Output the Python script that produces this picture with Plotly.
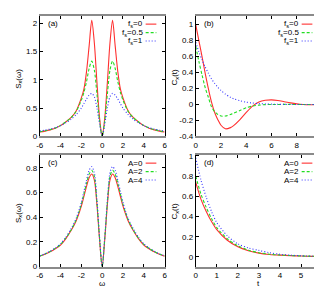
import plotly.graph_objects as go

# ---------------- data ----------------
omega = [-6, -5.5, -5, -4.5, -4, -3.5, -3, -2.5, -2, -1.75, -1.5, -1.25, -1, -0.75, -0.5, -0.25,
         0, 0.25, 0.5, 0.75, 1, 1.25, 1.5, 1.75, 2, 2.5, 3, 3.5, 4, 4.5, 5, 5.5, 6]

# panel (a): S(omega) for f_s = 0, 0.5, 1
Sa_fs0 = [0.077, 0.093, 0.115, 0.145, 0.19, 0.255, 0.33, 0.45, 0.68, 0.84, 1.15, 1.6, 2.05, 1.65, 0.95, 0.33,
          0, 0.33, 0.95, 1.65, 2.05, 1.6, 1.15, 0.84, 0.68, 0.45, 0.33, 0.255, 0.19, 0.145, 0.115, 0.093, 0.077]
Sa_fs05 = [0.082, 0.098, 0.12, 0.15, 0.195, 0.255, 0.33, 0.44, 0.64, 0.78, 0.97, 1.2, 1.33, 1.17, 0.75, 0.28,
           0, 0.28, 0.75, 1.17, 1.33, 1.2, 0.97, 0.78, 0.64, 0.44, 0.33, 0.255, 0.195, 0.15, 0.12, 0.098, 0.082]
Sa_fs1 = [0.095, 0.11, 0.13, 0.155, 0.19, 0.24, 0.3, 0.385, 0.5, 0.58, 0.66, 0.73, 0.76, 0.7, 0.5, 0.22,
          0, 0.22, 0.5, 0.7, 0.76, 0.73, 0.66, 0.58, 0.5, 0.385, 0.3, 0.24, 0.19, 0.155, 0.13, 0.11, 0.095]

# panel (c): S(omega) for A = 0, 2, 4
Sc_A0 = [0.084, 0.1, 0.12, 0.145, 0.175, 0.225, 0.29, 0.37, 0.49, 0.57, 0.65, 0.72, 0.75, 0.7, 0.5, 0.22,
         0, 0.22, 0.5, 0.7, 0.75, 0.72, 0.65, 0.57, 0.49, 0.37, 0.29, 0.225, 0.175, 0.145, 0.12, 0.1, 0.084]
Sc_A2 = [0.086, 0.102, 0.122, 0.148, 0.18, 0.23, 0.295, 0.38, 0.505, 0.59, 0.675, 0.75, 0.78, 0.73, 0.52, 0.23,
         0, 0.23, 0.52, 0.73, 0.78, 0.75, 0.675, 0.59, 0.505, 0.38, 0.295, 0.23, 0.18, 0.148, 0.122, 0.102, 0.086]
Sc_A4 = [0.088, 0.104, 0.125, 0.152, 0.185, 0.237, 0.305, 0.39, 0.52, 0.61, 0.7, 0.78, 0.81, 0.76, 0.54, 0.24,
         0, 0.24, 0.54, 0.76, 0.81, 0.78, 0.7, 0.61, 0.52, 0.39, 0.305, 0.237, 0.185, 0.152, 0.125, 0.104, 0.088]

# panel (b): C(t) for f_s = 0, 0.5, 1
t_b = [0, 0.25, 0.5, 0.75, 1, 1.25, 1.5, 1.75, 2, 2.35, 2.75, 3, 3.5, 4, 4.5, 5, 5.5, 6, 6.5, 7, 7.5, 8, 8.5, 9, 10]
Cb_fs0 = [1.0, 0.8, 0.6, 0.39, 0.2, 0.03, -0.1, -0.19, -0.26, -0.305, -0.29, -0.265, -0.19, -0.1, -0.02,
          0.03, 0.052, 0.058, 0.05, 0.035, 0.02, 0.008, 0.0, -0.003, -0.002]
Cb_fs05 = [0.73, 0.54, 0.37, 0.21, 0.09, -0.03, -0.09, -0.125, -0.145, -0.145, -0.125, -0.11, -0.075, -0.04,
           -0.02, -0.008, -0.002, 0.0, 0.0, 0.001, 0.001, 0.0, 0.0, 0.0, 0.0]
Cb_fs1 = [0.78, 0.66, 0.56, 0.47, 0.39, 0.32, 0.265, 0.215, 0.175, 0.13, 0.09, 0.072, 0.047, 0.029, 0.018,
          0.011, 0.007, 0.004, 0.002, 0.001, 0.0, 0.0, 0.0, 0.0, 0.0]

# panel (d): C(t) for A = 0, 2, 4
t_d = [0, 0.25, 0.5, 0.75, 1, 1.5, 2, 2.5, 3, 3.5, 4, 4.5, 5, 5.5, 6]
Cd_A0 = [0.74, 0.57, 0.45, 0.35, 0.27, 0.165, 0.1, 0.062, 0.038, 0.025, 0.018, 0.013, 0.009, 0.006, 0.004]
Cd_A2 = [0.8, 0.62, 0.49, 0.38, 0.29, 0.18, 0.11, 0.067, 0.042, 0.027, 0.019, 0.014, 0.01, 0.007, 0.005]
Cd_A4 = [0.98, 0.76, 0.59, 0.45, 0.34, 0.21, 0.13, 0.09, 0.065, 0.042, 0.027, 0.018, 0.012, 0.008, 0.005]

names_fs = ["f<sub>s</sub>=0", "f<sub>s</sub>=0.5", "f<sub>s</sub>=1"]
names_A = ["A=0", "A=2", "A=4"]

xt_omega = [-6, -4, -2, 0, 2, 4, 6]
xt_omega_text = ["-6", "-4", "-2", "0", "2", "4", "6"]
xt_b = [0, 2, 4, 6, 8, 10]
xt_b_text = ["0", "2", "4", "6", "8", "10"]
xt_d = [0, 1, 2, 3, 4, 5, 6]
xt_d_text = ["0", "1", "2", "3", "4", "5", "6"]
yt_a = [0, 0.5, 1, 1.5, 2]
yt_a_text = ["0", "0.5", "1", "1.5", "2"]
yt_b = [-0.4, -0.2, 0, 0.2, 0.4, 0.6, 0.8, 1]
yt_b_text = ["-0.4", "-0.2", "0", "0.2", "0.4", "0.6", "0.8", "1"]
yt_c = [0, 0.2, 0.4, 0.6, 0.8]
yt_c_text = ["0", "0.2", "0.4", "0.6", "0.8"]
yt_d = [0, 0.2, 0.4, 0.6, 0.8, 1]
yt_d_text = ["0", "0.2", "0.4", "0.6", "0.8", "1"]

# ---------------- styling ----------------
W, H = 322, 287
colors = ["#ff3030", "#22dd22", "#3535ff"]
dashes = ["solid", "3px,2px", "1px,2px"]
FONT = "Liberation Sans, Arial, sans-serif"

def px(xp):
    return xp / W

def py(yp):
    return 1 - yp / H

# panel pixel boxes: left, right, top, bottom
boxes = {
    1: (28.5, 157, 5, 129),
    2: (189, 319, 5, 129),
    3: (28.5, 157, 148, 263),
    4: (189, 319, 148, 263),
}

fig = go.Figure()

panels = [
    (1, omega, [Sa_fs0, Sa_fs05, Sa_fs1], names_fs),
    (2, t_b, [Cb_fs0, Cb_fs05, Cb_fs1], names_fs),
    (3, omega, [Sc_A0, Sc_A2, Sc_A4], names_A),
    (4, t_d, [Cd_A0, Cd_A2, Cd_A4], names_A),
]
for k, xs, series, nms in panels:
    sfx = "" if k == 1 else str(k)
    for i, ys in enumerate(series):
        fig.add_trace(go.Scatter(
            x=xs, y=ys, mode="lines", name=nms[i], showlegend=False,
            line=dict(color=colors[i], width=1.1, dash=dashes[i], shape="spline", smoothing=0.8),
            xaxis="x" + sfx, yaxis="y" + sfx))

axis_common = dict(
    showgrid=False, zeroline=False, showline=True, mirror="ticks",
    ticks="inside", ticklen=3, tickcolor="black", tickwidth=1,
    tickfont=dict(family=FONT, size=8, color="black"),
    tickmode="array", ticklabeloverflow="allow",
)

xranges = {1: [-6, 6], 2: [0, 10], 3: [-6, 6], 4: [0, 6]}
yranges = {1: [0, 2.13], 2: [-0.4, 1.11], 3: [0, 0.905], 4: [-0.096, 1.01]}
xticks = {1: (xt_omega, xt_omega_text), 2: (xt_b, xt_b_text), 3: (xt_omega, xt_omega_text), 4: (xt_d, xt_d_text)}
yticks = {1: (yt_a, yt_a_text), 2: (yt_b, yt_b_text), 3: (yt_c, yt_c_text), 4: (yt_d, yt_d_text)}

layout_axes = {}
for k, (l, r, t, b) in boxes.items():
    sfx = "" if k == 1 else str(k)
    layout_axes["xaxis" + sfx] = dict(
        axis_common, domain=[px(l), px(r)], range=xranges[k], anchor="y" + sfx,
        tickvals=xticks[k][0], ticktext=xticks[k][1],
        linecolor="#8a8a8a", linewidth=2)
    layout_axes["yaxis" + sfx] = dict(
        axis_common, domain=[py(b), py(t)], range=yranges[k], anchor="x" + sfx,
        tickvals=yticks[k][0], ticktext=yticks[k][1],
        linecolor="black", linewidth=1)

annotations = []
shapes = []

# panel labels
for k, lab in zip([1, 2, 3, 4], ["(a)", "(b)", "(c)", "(d)"]):
    l, r, t, b = boxes[k]
    annotations.append(dict(text=lab, x=px(l + 7), y=py(t + 8), xref="paper", yref="paper",
                            xanchor="left", yanchor="middle", showarrow=False, borderpad=0,
                            font=dict(family=FONT, size=8, color="black")))

# legends (gnuplot style: text right-aligned, sample to the right)
for k, nms in [(1, names_fs), (2, names_fs), (3, names_A), (4, names_A)]:
    l, r, t, b = boxes[k]
    for i, nm in enumerate(nms):
        yrow = t + 8.5 + 8.7 * i
        annotations.append(dict(text=nm, x=px(l + 107), y=py(yrow), xref="paper", yref="paper",
                                xanchor="right", yanchor="middle", showarrow=False, borderpad=0,
                                font=dict(family=FONT, size=8, color="black")))
        shapes.append(dict(type="line", xref="paper", yref="paper",
                           x0=px(l + 109), x1=px(l + 120), y0=py(yrow), y1=py(yrow),
                           line=dict(color=colors[i], width=1.1, dash=dashes[i])))

# axis titles
ytitles = [(7, 70, "S<sub>x</sub>(ω)"), (168, 68, "C<sub>x</sub>(t)"),
           (7, 208, "S<sub>x</sub>(ω)"), (168, 206, "C<sub>x</sub>(t)")]
for xp, yp, txt in ytitles:
    annotations.append(dict(text=txt, x=px(xp), y=py(yp), xref="paper", yref="paper",
                            xanchor="center", yanchor="middle", textangle=-90, showarrow=False,
                            borderpad=0, font=dict(family=FONT, size=8, color="black")))
for xp, yp, txt in [(93, 280.2, "ω"), (254, 280.2, "t")]:
    annotations.append(dict(text=txt, x=px(xp), y=py(yp), xref="paper", yref="paper",
                            xanchor="center", yanchor="middle", showarrow=False, borderpad=0,
                            font=dict(family=FONT, size=8, color="black")))

fig.update_layout(
    width=W, height=H, margin=dict(l=0, r=0, t=0, b=0),
    paper_bgcolor="white", plot_bgcolor="white",
    showlegend=False, annotations=annotations, shapes=shapes,
    **layout_axes)

fig.write_html("out.html")
